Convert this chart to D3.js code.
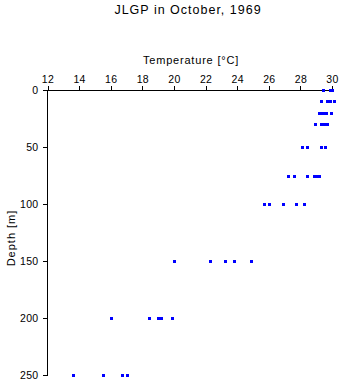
<!DOCTYPE html>
<html><head><meta charset="utf-8">
<script src="https://cdn.jsdelivr.net/npm/d3@7"></script>
<style>body{margin:0;background:#fff}svg{display:block;font-family:"Liberation Sans",Arial,sans-serif}</style>
</head><body><svg id="c" width="341" height="384"></svg>
<script>
const title = "JLGP in October, 1969";
const xLabel = "Temperature [°C]";
const yLabel = "Depth [m]";
const xTicks = [12,14,16,18,20,22,24,26,28,30];
const yTicks = [0,50,100,150,200,250];
const depths = [0,0,0,10,10,10,10,20,20,20,20,20,30,30,30,30,
  50,50,50,50,75,75,75,75,75,75,100,100,100,100,100,
  150,150,150,150,150,200,200,200,200,200,250,250,250,250];
const temps = [29.4,29.9,30.0,29.3,29.7,29.9,30.1,29.15,29.3,29.45,29.6,29.95,28.9,29.3,29.5,29.7,
  28.1,28.4,29.3,29.55,27.2,27.6,28.4,28.85,29.0,29.15,25.7,26.0,26.9,27.7,28.2,
  20.0,22.3,23.2,23.8,24.9,16.0,18.4,19.0,19.2,19.9,13.6,15.5,16.7,17.0];

const svg = d3.select("#c");
const x = d3.scaleLinear().domain([12,30]).range([47.5,332]);
const y = d3.scaleLinear().domain([0,250]).range([90,375]);

svg.append("text").attr("x",188).attr("y",13.5).attr("text-anchor","middle")
  .attr("font-size",12.5).attr("letter-spacing",1).text(title);
svg.append("text").attr("x",191).attr("y",63.5).attr("text-anchor","middle")
  .attr("font-size",11).attr("letter-spacing",0.8).text(xLabel);
svg.append("text").attr("transform","translate(14.5,238) rotate(-90)").attr("text-anchor","middle")
  .attr("font-size",11).attr("letter-spacing",1).text(yLabel);

const xa = svg.append("g").attr("transform","translate(0,90)")
  .call(d3.axisTop(x).tickValues(xTicks).tickSize(4).tickPadding(3).tickFormat(d3.format("d")));
const ya = svg.append("g").attr("transform","translate(47.5,0)")
  .call(d3.axisLeft(y).tickValues(yTicks).tickSize(5).tickPadding(4).tickFormat(d3.format("d")));
[xa,ya].forEach(a=>{
  a.select(".domain").remove();
  a.selectAll("text").attr("font-size",10.5).attr("letter-spacing",0.3).attr("font-family","'Liberation Sans',Arial,sans-serif").attr("fill","#000");
  a.selectAll("line").attr("stroke","#000").attr("shape-rendering","crispEdges");
});
svg.append("line").attr("x1",47.5).attr("x2",332).attr("y1",90).attr("y2",90).attr("stroke","#000").attr("shape-rendering","crispEdges");
svg.append("line").attr("x1",47.5).attr("x2",47.5).attr("y1",90).attr("y2",375).attr("stroke","#000").attr("shape-rendering","crispEdges");

svg.append("g").selectAll("rect").data(temps.map((t,i)=>({t,d:depths[i]}))).join("rect")
  .attr("x",d=>Math.round(x(d.t))-1.5).attr("y",d=>Math.round(y(d.d))-1.5)
  .attr("width",3).attr("height",3).attr("fill","#0000ff").attr("shape-rendering","crispEdges");
</script></body></html>
